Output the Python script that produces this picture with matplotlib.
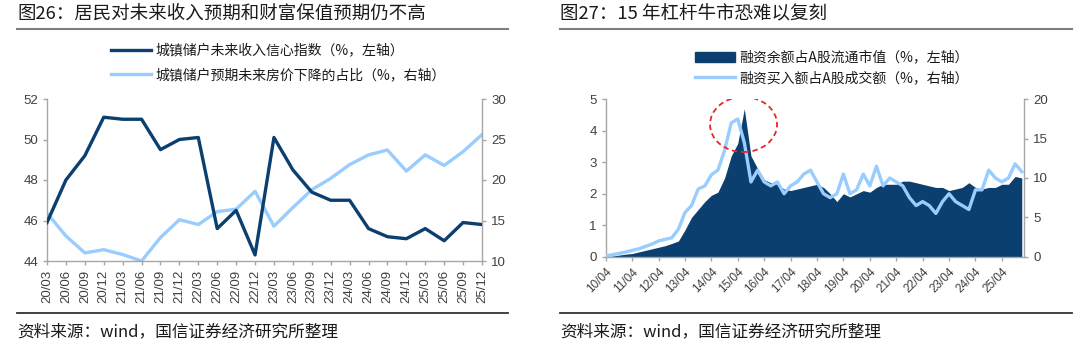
import matplotlib
matplotlib.use('Agg')
import matplotlib.pyplot as plt
import matplotlib.dates as mdates
from matplotlib.lines import Line2D
from matplotlib.patches import Ellipse, Patch
import pandas as pd

plt.rcParams['font.family'] = ['Noto Sans CJK SC', 'DejaVu Sans']

# ---- 图26 数据（季度）
quarters = ['20/03', '20/06', '20/09', '20/12', '21/03', '21/06', '21/09', '21/12',
            '22/03', '22/06', '22/09', '22/12', '23/03', '23/06', '23/09', '23/12',
            '24/03', '24/06', '24/09', '24/12', '25/03', '25/06', '25/09', '25/12']
income_conf = [45.9, 48.0, 49.2, 51.1, 51.0, 51.0, 49.5, 50.0,
               50.1, 45.6, 46.5, 44.3, 50.1, 48.5, 47.4, 47.0,
               47.0, 45.6, 45.2, 45.1, 45.6, 45.0, 45.9, 45.8]
price_down = [15.9, 13.1, 11.0, 11.4, 10.8, 10.0, 12.9, 15.1,
              14.5, 16.1, 16.4, 18.6, 14.3, 16.6, 18.8, 20.2,
              21.9, 23.1, 23.7, 21.1, 23.1, 21.8, 23.5, 25.6]

# ---- 图27 数据（季度，2010/04 - 2026/01）
margin_dates = pd.date_range('2010-04-01', periods=64, freq='QS-JAN')
margin_bal = [0.0, 0.02, 0.05,
              0.08, 0.1, 0.15, 0.2,
              0.25, 0.3, 0.35, 0.42,
              0.5, 0.85, 1.25, 1.5,
              1.75, 1.95, 2.05, 2.5,
              3.2, 3.6, 4.7, 3.2,
              2.8, 2.45, 2.35, 2.3,
              2.15, 2.1, 2.15, 2.2,
              2.25, 2.3, 2.2, 2.0,
              1.75, 2.0, 1.9, 2.0,
              2.1, 2.05, 2.2, 2.3,
              2.3, 2.3, 2.4, 2.4,
              2.35, 2.3, 2.25, 2.2,
              2.2, 2.1, 2.15, 2.2,
              2.35, 2.2, 2.15, 2.2,
              2.2, 2.3, 2.3, 2.55,
              2.5]
margin_buy = [0.1, 0.25, 0.4,
              0.6, 0.8, 1.0, 1.3,
              1.6, 2.0, 2.2, 2.4,
              3.5, 5.6, 6.5, 8.6,
              9.0, 10.4, 11.0, 13.5,
              17.0, 17.5, 14.5, 9.5,
              11.0, 9.5, 9.0, 9.5,
              8.0, 9.0, 9.5, 10.5,
              11.0, 9.5, 8.0, 7.5,
              8.0, 10.5, 8.0, 8.5,
              10.5, 9.0, 11.5, 9.0,
              10.0, 9.5, 9.0, 7.5,
              6.5, 7.0, 6.5, 5.5,
              7.0, 8.0, 7.0, 6.5,
              6.0, 8.5, 8.5, 11.0,
              10.0, 9.5, 10.0, 11.8,
              10.8]

dark = '#0b3f70'
light = '#99ccff'
grey = '#a6a6a6'
txt = '#404040'

W, H = 1080, 350
fig = plt.figure(figsize=(W / 100, H / 100), dpi=100)


def fx(px):
    return px / W


def fy(py):
    return 1 - py / H


def style(ax):
    ax.spines['top'].set_visible(False)
    for s in ['left', 'right', 'bottom']:
        ax.spines[s].set_color(grey)
        ax.spines[s].set_linewidth(1.0)
    ax.tick_params(colors=grey, labelcolor=txt, labelsize=9.5, length=3, width=1)
    for lab in ax.get_yticklabels():
        lab.set_family(['Liberation Sans', 'DejaVu Sans'])


# 标题、分隔线、资料来源
for x0, x1, title in [(17, 508, '图26：居民对未来收入预期和财富保值预期仍不高'),
                      (560, 1072, '图27：15 年杠杆牛市恐难以复刻')]:
    fig.text(fx(x0), fy(14), title, fontsize=13.3, va='center', ha='left', color='#1a1a1a')
    fig.add_artist(Line2D([fx(x0), fx(x1)], [fy(29), fy(29)], color='#7f7f7f', lw=1.5))
    fig.add_artist(Line2D([fx(x0), fx(x1)], [fy(313), fy(313)], color='#333333', lw=1.3))
    fig.text(fx(x0), fy(332), '资料来源：wind，国信证券经济研究所整理', fontsize=12,
             va='center', ha='left', color='#1a1a1a')

# ---- 左图
ax1 = fig.add_axes([fx(47), fy(261), fx(482 - 47), (261 - 99) / H])
ax1b = ax1.twinx()
x = list(range(len(quarters)))
l1, = ax1.plot(x, income_conf, color=dark, lw=2.4, solid_joinstyle='round', zorder=3)
l2, = ax1b.plot(x, price_down, color=light, lw=2.4, solid_joinstyle='round', zorder=2)
ax1.set_zorder(ax1b.get_zorder() + 1)
ax1.patch.set_visible(False)
ax1.set_xlim(0, len(quarters) - 1)
ax1.set_ylim(44, 52)
ax1.set_yticks([44, 46, 48, 50, 52])
ax1b.set_ylim(10, 30)
ax1b.set_yticks([10, 15, 20, 25, 30])
ax1.set_xticks(x)
ax1.set_xticklabels(quarters, rotation=90, fontsize=9, family=['Liberation Sans', 'DejaVu Sans'])
style(ax1)
style(ax1b)
ax1.spines['right'].set_visible(False)
ax1b.spines['left'].set_visible(False)
ax1b.spines['bottom'].set_visible(False)

fig.legend([l1, l2], ['城镇储户未来收入信心指数（%，左轴）', '城镇储户预期未来房价下降的占比（%，右轴）'],
           loc='upper left', bbox_to_anchor=(fx(98), fy(31)), frameon=False, fontsize=10,
           handlelength=2.9, handletextpad=0.3, labelspacing=0.75, labelcolor='#1a1a1a')

# ---- 右图
ax2 = fig.add_axes([fx(605.7), fy(256.7), fx(1024 - 605.7), (256.7 - 99.3) / H])
ax2b = ax2.twinx()
ax2.fill_between(margin_dates, 0, margin_bal, color=dark, lw=0)
l3, = ax2b.plot(margin_dates, margin_buy, color=light, lw=2.4, solid_joinstyle='round')
ax2.set_xlim(pd.Timestamp('2010-04-01'), pd.Timestamp('2026-02-01'))
ax2.set_ylim(0, 5)
ax2b.set_ylim(0, 20)
ax2b.set_yticks([0, 5, 10, 15, 20])
ax2.xaxis.set_major_locator(mdates.MonthLocator(bymonth=4))
ax2.xaxis.set_major_formatter(mdates.DateFormatter('%y/%m'))
style(ax2)
style(ax2b)
ax2.spines['right'].set_visible(False)
ax2b.spines['left'].set_visible(False)
ax2b.spines['bottom'].set_visible(False)
for lab in ax2.get_xticklabels():
    lab.set_rotation(45)
    lab.set_ha('right')
    lab.set_rotation_mode('anchor')
    lab.set_fontsize(8.5)
    lab.set_family(['Liberation Sans', 'DejaVu Sans'])

ell = Ellipse((mdates.date2num(pd.Timestamp('2015-06-20')), 16.8), width=927, height=7.0,
              fill=False, ec='#e8262a', ls=(0, (3, 2)), lw=1.3, zorder=5)
ax2b.add_patch(ell)

fig.legend([Patch(color=dark), l3], ['融资余额占A股流通市值（%，左轴）', '融资买入额占A股成交额（%，右轴）'],
           loc='upper left', bbox_to_anchor=(fx(682), fy(38)), frameon=False, fontsize=10,
           handlelength=2.9, handletextpad=0.3, labelspacing=0.45, labelcolor='#1a1a1a')

fig.savefig('out.png', dpi=100)
